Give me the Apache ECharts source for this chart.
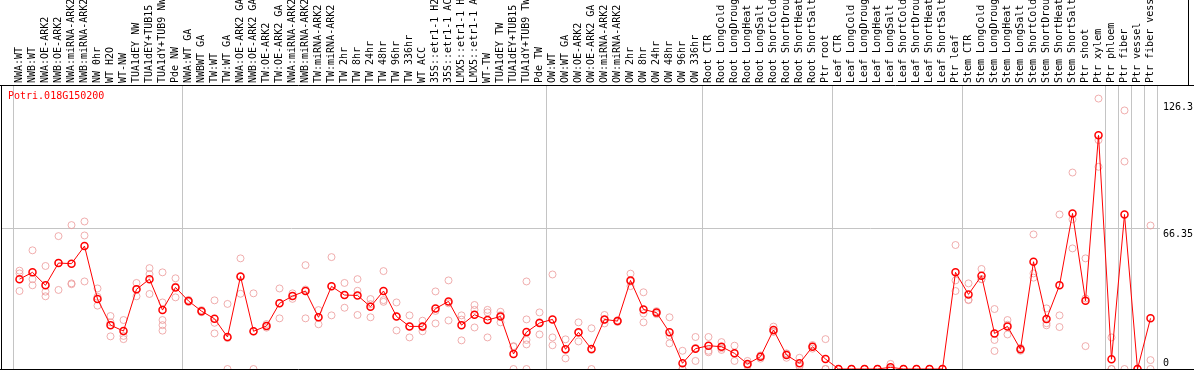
<!DOCTYPE html>
<html>
<head>
<meta charset="utf-8">
<script src="https://cdn.jsdelivr.net/npm/echarts@6/dist/echarts.min.js"></script>
<style>
html, body { margin: 0; padding: 0; background: #fff; }
#container { width: 1194px; height: 370px; }
</style>
</head>
<body>
<div id="container"></div>
<script>
// sample names, left to right
var categories = [
	'NWA:WT', 'NWB:WT', 'NWA:OE-ARK2', 'NWB:OE-ARK2', 'NWA:miRNA-ARK2', 'NWB:miRNA-ARK2',
	'NW 0hr', 'WT H2O', 'WT-NW', 'TUA1dEY NW', 'TUA1dEY+TUB15 NW', 'TUA1dY+TUB9 NW', 'Pde NW',
	'NWA:WT GA', 'NWBWT GA', 'TW:WT', 'TW:WT GA', 'NWA:OE-ARK2 GA', 'NWB:OE-ARK2 GA',
	'TW:OE-ARK2', 'TW:OE-ARK2 GA', 'NWA:miRNA-ARK2', 'NWB:miRNA-ARK2', 'TW:miRNA-ARK2',
	'TW:miRNA-ARK2', 'TW 2hr', 'TW 8hr', 'TW 24hr', 'TW 48hr', 'TW 96hr', 'TW 336hr', 'WT ACC',
	'35S::etr1-1 H2O', '35S::etr1-1 ACC', 'LMX5::etr1-1 H2O', 'LMX5::etr1-1 ACC', 'WT-TW',
	'TUA1dEY TW', 'TUA1dEY+TUB15 TW', 'TUA1dY+TUB9 TW', 'Pde TW',
	'OW:WT', 'OW:WT GA', 'OW:OE-ARK2', 'OW:OE-ARK2 GA', 'OW:miRNA-ARK2', 'OW:miRNA-ARK2',
	'OW 2hr', 'OW 8hr', 'OW 24hr', 'OW 48hr', 'OW 96hr', 'OW 336hr',
	'Root CTR', 'Root LongCold', 'Root LongDrought', 'Root LongHeat', 'Root LongSalt',
	'Root ShortCold', 'Root ShortDrought', 'Root ShortHeat', 'Root ShortSalt', 'Ptr root',
	'Leaf CTR', 'Leaf LongCold', 'Leaf LongDrought', 'Leaf LongHeat', 'Leaf LongSalt',
	'Leaf ShortCold', 'Leaf ShortDrought', 'Leaf ShortHeat', 'Leaf ShortSalt', 'Ptr leaf',
	'Stem CTR', 'Stem LongCold', 'Stem LongDrought', 'Stem LongHeat', 'Stem LongSalt',
	'Stem ShortCold', 'Stem ShortDrought', 'Stem ShortHeat', 'Stem ShortSalt', 'Ptr shoot',
	'Ptr xylem', 'Ptr phloem', 'Ptr fiber', 'Ptr vessel', 'Ptr fiber vessel'
];

// mean expression per sample
var means = [
	42.4, 45.6, 39.5, 50.0, 49.7, 58.0, 33.0, 20.7, 17.9, 37.6, 42.4, 27.8, 38.5,
	32.1, 27.3, 23.7, 15.1, 43.7, 17.8, 20.3, 31.0, 34.4, 36.8, 24.4, 39.0, 34.9, 34.7, 29.4,
	36.8, 24.8, 20.1, 20.1, 28.5, 31.9, 20.7, 25.6, 23.1, 24.8, 7.1, 17.4, 21.7,
	23.4, 9.3, 17.3, 9.4, 23.4, 22.6, 41.8, 28.1, 26.6, 17.3, 2.7, 9.6,
	11.0, 10.5, 7.4, 2.4, 5.8, 18.4, 6.6, 2.7, 10.5, 4.7,
	0, 0, 0, 0, 0.8, 0, 0, 0, 0, 45.6,
	35.2, 44.0, 16.8, 20.1, 9.3, 50.6, 23.6, 39.5, 73.4, 32.2,
	110.3, 4.6, 72.9, 0, 23.9
];

// single replicates per sample
var replicates = [
	[46.4, 45.1, 36.8], [56.0, 42.4, 39.5], [48.6, 36.5, 34.3], [62.7, 50.0, 37.3],
	[67.9, 40.4, 40.0], [69.6, 63.0, 41.3], [38.0, 34.1, 29.9], [25.0, 22.0, 15.4],
	[23.1, 15.6, 14.1], [40.6, 37.6, 34.3], [47.6, 44.8, 35.4], [45.6, 31.4, 23.1, 20.7, 18.1],
	[42.8, 38.9, 33.8],
	[32.6, 32.1, 31.6], [27.8, 27.3, 26.8], [32.4, 21.8, 16.8], [30.7, 14.6, 0],
	[52.2, 43.5, 35.5], [35.7, 17.8, 0], [21.2, 20.3, 19.5], [38.0, 31.0, 23.9],
	[35.7, 34.4, 33.1], [49.0, 37.5, 23.9], [27.8, 24.4, 21.1], [52.8, 39.0, 25.3],
	[40.6, 34.9, 28.9], [42.4, 36.9, 25.5], [33.0, 30.6, 24.4], [46.2, 32.5, 31.7],
	[31.4, 24.8, 18.2], [25.3, 20.1, 14.9], [22.8, 19.7, 17.8], [36.6, 27.4, 21.5],
	[41.8, 31.0, 22.9], [25.3, 23.3, 13.5], [30.2, 27.9, 19.6], [27.9, 26.7, 14.9],
	[27.0, 25.4, 22.0], [10.8, 10.5, 0], [41.3, 23.4, 13.7, 11.6, 0], [26.7, 22.1, 16.3],
	[44.6, 14.9, 11.2], [14.0, 9.0, 5.0], [22.0, 17.0, 13.0], [19.2, 9.0, 0],
	[25.5, 23.2, 21.5], [23.0, 22.6, 22.2], [45.0, 41.3, 39.1], [36.2, 26.2, 22.0],
	[27.3, 26.6, 25.9], [24.4, 15.6, 12.1], [8.6, 0, 0], [15.1, 9.9, 3.8],
	[15.1, 8.6, 7.9], [12.7, 9.8, 9.0], [11.0, 7.4, 3.8], [3.8, 2.0, 1.4], [6.4, 6.1, 4.9],
	[20.0, 17.6, 17.6], [7.4, 7.1, 5.3], [5.3, 1.7, 1.1], [11.3, 10.6, 9.6], [14.1, 0, 0],
	[0, 0, 0], [0, 0, 0], [0, 0, 0], [0, 0, 0], [2.4, 0, 0], [0, 0, 0], [0, 0, 0],
	[0, 0, 0], [0, 0, 0], [58.5, 41.8, 36.8],
	[40.4, 32.7, 32.5], [47.2, 42.4, 42.4], [28.3, 13.7, 8.5], [23.1, 20.9, 16.3],
	[10.0, 9.3, 8.6], [63.5, 45.1, 43.1], [28.6, 21.6, 20.6], [72.9, 25.3, 19.8],
	[92.7, 70.6, 56.9], [52.2, 33.3, 10.8],
	[127.6, 108.0, 95.4], [14.9, 0, 0], [122.0, 97.9, 0], [0, 0, 0], [67.7, 4.2, 0]
];

// right axis labels and group boundaries (index of the band that starts after the line)
var tickValues = [0, 66.35, 126.3];
var gridValue = 66.35;
var groupStarts = [0, 13, 41, 53, 63, 73, 84, 85, 86, 87, 88];

var mono = 'DejaVu Sans Mono';
var sepGrey = '#c4c4c4';

function isGroupStart(index) {
	return groupStarts.indexOf(index) >= 0;
}

var repPoints = function() {
	var arr = [];
	for (var i = 0; i < replicates.length; ++i)
		for (var j = 0; j < replicates[i].length; ++j)
			arr.push([i, replicates[i][j]]);
	return arr;
}();

var myChart = echarts.init(document.getElementById('container'));

var option = {
	animation: false,
	backgroundColor: '#fff',
	title: {
		text: 'Potri.018G150200',
		left: 8,
		top: 91,
		padding: 0,
		textStyle: { fontFamily: mono, fontSize: 10, fontWeight: 'normal', color: '#ff0000' }
	},
	grid: { left: 13, right: 37, top: 85, bottom: 1, outerBoundsMode: 'none', containLabel: false },
	xAxis: {
		type: 'category',
		position: 'top',
		data: categories,
		boundaryGap: true,
		axisLine: { show: false },
		axisTick: {
			show: true,
			length: 85,
			interval: function(index) { return isGroupStart(index); },
			lineStyle: { color: sepGrey, width: 1 }
		},
		splitLine: {
			show: true,
			interval: function(index) { return isGroupStart(index); },
			lineStyle: { color: sepGrey, width: 1 }
		},
		axisLabel: {
			interval: 0,
			rotate: 90,
			margin: 2,
			fontFamily: mono,
			fontSize: 10,
			color: '#000'
		}
	},
	yAxis: {
		type: 'value',
		position: 'right',
		min: 0,
		max: 134,
		axisLine: { show: false },
		axisTick: { show: false },
		splitLine: { show: false },
		axisLabel: {
			customValues: tickValues,
			margin: 6,
			fontFamily: mono,
			fontSize: 10,
			color: '#000',
			formatter: function(v) {
				return v === 0 ? '{lo|0}' : '{hi|' + v + '}';
			},
			rich: {
				lo: { fontFamily: mono, fontSize: 10, color: '#000', padding: [0, 0, 12, 0] },
				hi: { fontFamily: mono, fontSize: 10, color: '#000', padding: [12, 0, 0, 0] }
			}
		}
	},
	series: [
		{
			name: 'replicates',
			type: 'scatter',
			data: repPoints,
			symbol: 'circle',
			symbolSize: 7,
			itemStyle: { color: 'rgba(0,0,0,0)', borderColor: '#ec9a9a', borderWidth: 1 },
			z: 2
		},
		{
			name: 'mean',
			type: 'line',
			data: means,
			symbol: 'circle',
			symbolSize: 7,
			showAllSymbol: true,
			lineStyle: { color: '#ff0000', width: 1 },
			itemStyle: { color: 'rgba(0,0,0,0)', borderColor: '#ff0000', borderWidth: 1.5 },
			z: 3
		}
	]
};
myChart.setOption(option);

// frame lines and the mid grid line, placed with the chart's own y scale
var yGrid = Math.round(myChart.convertToPixel({ yAxisIndex: 0 }, gridValue)) + 0.5;
myChart.setOption({
	graphic: [
		{ type: 'line', silent: true, z: 0, shape: { x1: 2, y1: yGrid, x2: 1160, y2: yGrid }, style: { stroke: sepGrey, lineWidth: 1 } },
		{ type: 'line', silent: true, z: 10, shape: { x1: 0, y1: 85.5, x2: 1194, y2: 85.5 }, style: { stroke: '#000', lineWidth: 1 } },
		{ type: 'line', silent: true, z: 10, shape: { x1: 0, y1: 369.5, x2: 1194, y2: 369.5 }, style: { stroke: '#000', lineWidth: 1 } },
		{ type: 'line', silent: true, z: 10, shape: { x1: 1.5, y1: 85, x2: 1.5, y2: 370 }, style: { stroke: '#000', lineWidth: 1 } },
		{ type: 'line', silent: true, z: 10, shape: { x1: 1188.5, y1: 0, x2: 1188.5, y2: 85 }, style: { stroke: '#000', lineWidth: 1 } }
	]
});
</script>
</body>
</html>
